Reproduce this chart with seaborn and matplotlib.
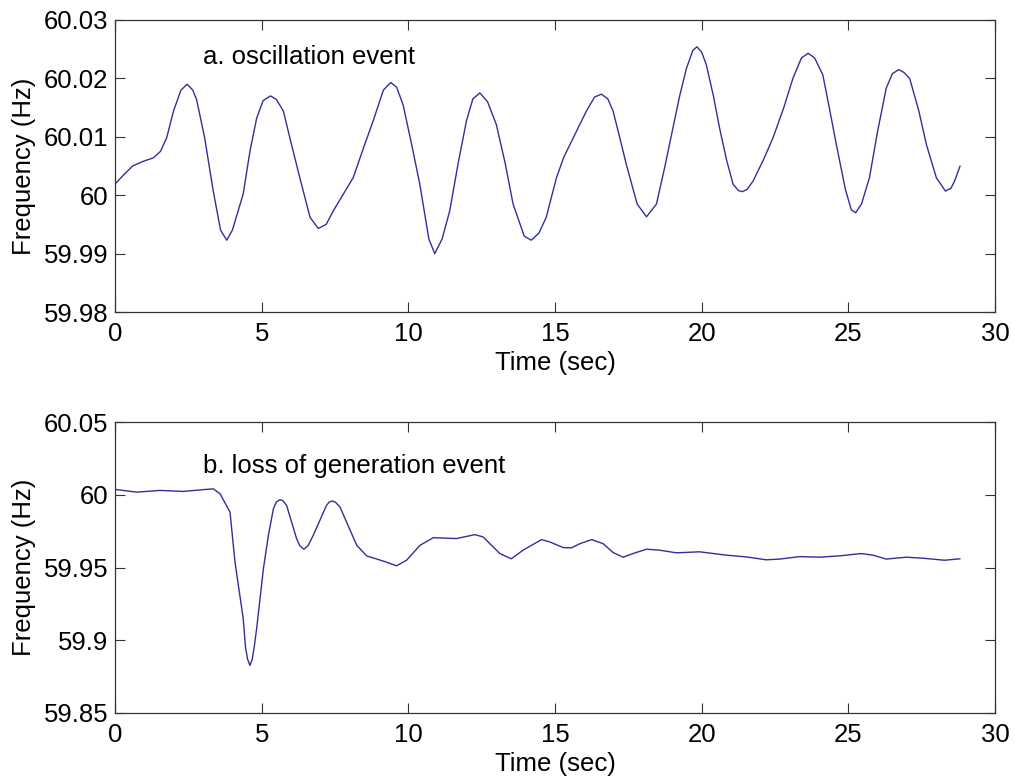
import matplotlib
matplotlib.use("Agg")
import matplotlib.pyplot as plt
import seaborn as sns
import pandas as pd

# ---- data: oscillation event ----
t_osc = [0.00, 0.30, 0.60, 0.96, 1.31, 1.55, 1.76, 2.00, 2.25, 2.46, 2.65, 2.78, 3.05, 3.35, 3.60, 3.81,
         4.00, 4.37, 4.60, 4.83, 5.05, 5.30, 5.50, 5.74, 6.00, 6.30, 6.65, 6.93, 7.20, 7.44, 8.12, 8.50,
         8.80, 9.15, 9.40, 9.60, 9.82, 10.10, 10.39, 10.70, 10.90, 11.15, 11.41, 11.70, 11.98, 12.20,
         12.44, 12.70, 13.00, 13.30, 13.57, 13.95, 14.19, 14.45, 14.70, 15.05, 15.30, 15.62, 16.07,
         16.35, 16.58, 16.80, 16.98, 17.20, 17.43, 17.80, 18.12, 18.46, 18.75, 19.02, 19.25, 19.48,
         19.70, 19.84, 20.00, 20.16, 20.40, 20.61, 20.85, 21.07, 21.25, 21.39, 21.55, 21.75, 22.10,
         22.43, 22.80, 23.11, 23.40, 23.63, 23.85, 24.13, 24.35, 24.59, 24.90, 25.10, 25.25, 25.45,
         25.72, 26.00, 26.29, 26.50, 26.72, 26.90, 27.09, 27.40, 27.66, 28.00, 28.31, 28.50, 28.62, 28.81]
f_osc = [60.0019, 60.0035, 60.0050, 60.0058, 60.0064, 60.0075, 60.0098, 60.0145, 60.0180, 60.0190,
         60.0180, 60.0164, 60.0100, 60.0007, 59.9940, 59.9923, 59.9940, 60.0002, 60.0075, 60.0132,
         60.0162, 60.0170, 60.0164, 60.0144, 60.0090, 60.0030, 59.9962, 59.9943, 59.9950, 59.9973,
         60.0030, 60.0085, 60.0127, 60.0180, 60.0193, 60.0185, 60.0155, 60.0090, 60.0019, 59.9925,
         59.9900, 59.9925, 59.9973, 60.0055, 60.0127, 60.0165, 60.0175, 60.0160, 60.0121, 60.0055,
         59.9985, 59.9930, 59.9923, 59.9935, 59.9962, 60.0030, 60.0065, 60.0098, 60.0144, 60.0168,
         60.0173, 60.0165, 60.0144, 60.0100, 60.0053, 59.9985, 59.9963, 59.9985, 60.0050, 60.0115,
         60.0170, 60.0217, 60.0248, 60.0254, 60.0245, 60.0223, 60.0170, 60.0115, 60.0060, 60.0019,
         60.0008, 60.0006, 60.0010, 60.0024, 60.0060, 60.0098, 60.0150, 60.0200, 60.0235, 60.0243,
         60.0235, 60.0206, 60.0150, 60.0087, 60.0010, 59.9975, 59.9970, 59.9985, 60.0030, 60.0110,
         60.0183, 60.0208, 60.0215, 60.0210, 60.0200, 60.0145, 60.0087, 60.0030, 60.0007, 60.0012,
         60.0024, 60.0050]

# ---- data: loss of generation event ----
t_loss = [0.00, 0.74, 1.53, 2.33, 3.00, 3.35, 3.58, 3.92, 4.09, 4.37, 4.45, 4.52, 4.60, 4.68, 4.75, 4.83,
          5.06, 5.23, 5.40, 5.50, 5.62, 5.72, 5.85, 6.19, 6.30, 6.44, 6.58, 6.76, 7.21, 7.30, 7.41, 7.52,
          7.67, 8.24, 8.58, 9.15, 9.60, 9.94, 10.40, 10.85, 11.64, 12.27, 12.55, 13.12, 13.51, 13.91,
          14.54, 14.82, 15.28, 15.56, 15.85, 16.25, 16.64, 16.98, 17.32, 17.66, 18.12, 18.57, 19.14,
          19.93, 20.84, 21.52, 22.20, 22.66, 23.34, 24.02, 24.70, 25.44, 25.84, 26.29, 26.97, 27.54,
          28.28, 28.81]
f_loss = [60.0037, 60.0018, 60.0030, 60.0023, 60.0035, 60.0041, 60.0007, 59.9882, 59.9539, 59.9150,
          59.8950, 59.8870, 59.8827, 59.8870, 59.8960, 59.9082, 59.9493, 59.9722, 59.9904, 59.9950,
          59.9966, 59.9960, 59.9927, 59.9699, 59.9650, 59.9626, 59.9650, 59.9722, 59.9927, 59.9950,
          59.9957, 59.9948, 59.9916, 59.9653, 59.9580, 59.9544, 59.9512, 59.9550, 59.9653, 59.9705,
          59.9699, 59.9726, 59.9710, 59.9596, 59.9560, 59.9619, 59.9692, 59.9676, 59.9637, 59.9635,
          59.9664, 59.9692, 59.9664, 59.9603, 59.9571, 59.9596, 59.9626, 59.9619, 59.9601, 59.9608,
          59.9585, 59.9573, 59.9553, 59.9558, 59.9575, 59.9571, 59.9580, 59.9596, 59.9585, 59.9558,
          59.9571, 59.9564, 59.9550, 59.9560]

x_ticks = [0, 5, 10, 15, 20, 25, 30]
y_ticks_a = [59.98, 59.99, 60.00, 60.01, 60.02, 60.03]
y_labels_a = ["59.98", "59.99", "60", "60.01", "60.02", "60.03"]
y_ticks_b = [59.85, 59.90, 59.95, 60.00, 60.05]
y_labels_b = ["59.85", "59.9", "59.95", "60", "60.05"]
titles = ["a. oscillation event", "b. loss of generation event"]

sns.set_style("ticks")
plt.rcParams["font.family"] = ["Liberation Sans", "DejaVu Sans"]

fig = plt.figure(figsize=(10.15, 7.83), dpi=100)
ax1 = fig.add_axes([0.1133, 0.6015, 0.867, 0.373])
ax2 = fig.add_axes([0.1133, 0.0894, 0.867, 0.3716])

line_color = "#30309a"
df_a = pd.DataFrame({"t": t_osc, "f": f_osc})
df_b = pd.DataFrame({"t": t_loss, "f": f_loss})
sns.lineplot(data=df_a, x="t", y="f", ax=ax1, color=line_color, linewidth=1.0, sort=False)
sns.lineplot(data=df_b, x="t", y="f", ax=ax2, color=line_color, linewidth=1.0, sort=False)

fs = 18.5
title_y = [0.848, 0.825]
for i, (ax, yt, yl) in enumerate([(ax1, y_ticks_a, y_labels_a), (ax2, y_ticks_b, y_labels_b)]):
    ax.set_xlim(0, 30)
    ax.set_ylim(yt[0], yt[-1])
    ax.set_xticks(x_ticks)
    ax.set_xticklabels([str(v) for v in x_ticks])
    ax.set_yticks(yt)
    ax.set_yticklabels(yl)
    ax.tick_params(direction="in", length=7, width=0.8, color="#333333", labelsize=fs,
                   labelcolor="black", top=True, right=True)
    ax.tick_params(axis="x", pad=7)
    ax.tick_params(axis="y", pad=5)
    for s in ax.spines.values():
        s.set_visible(True)
        s.set_color("#333333")
        s.set_linewidth(0.9)
    ax.set_xlabel("Time (sec)", fontsize=fs, labelpad=4, color="black")
    ax.set_ylabel("Frequency (Hz)", fontsize=fs, labelpad=5, color="black")
    ax.text(0.10, title_y[i], titles[i], transform=ax.transAxes, fontsize=fs,
            va="baseline", ha="left", color="black")

fig.savefig("out.png", dpi=100)
